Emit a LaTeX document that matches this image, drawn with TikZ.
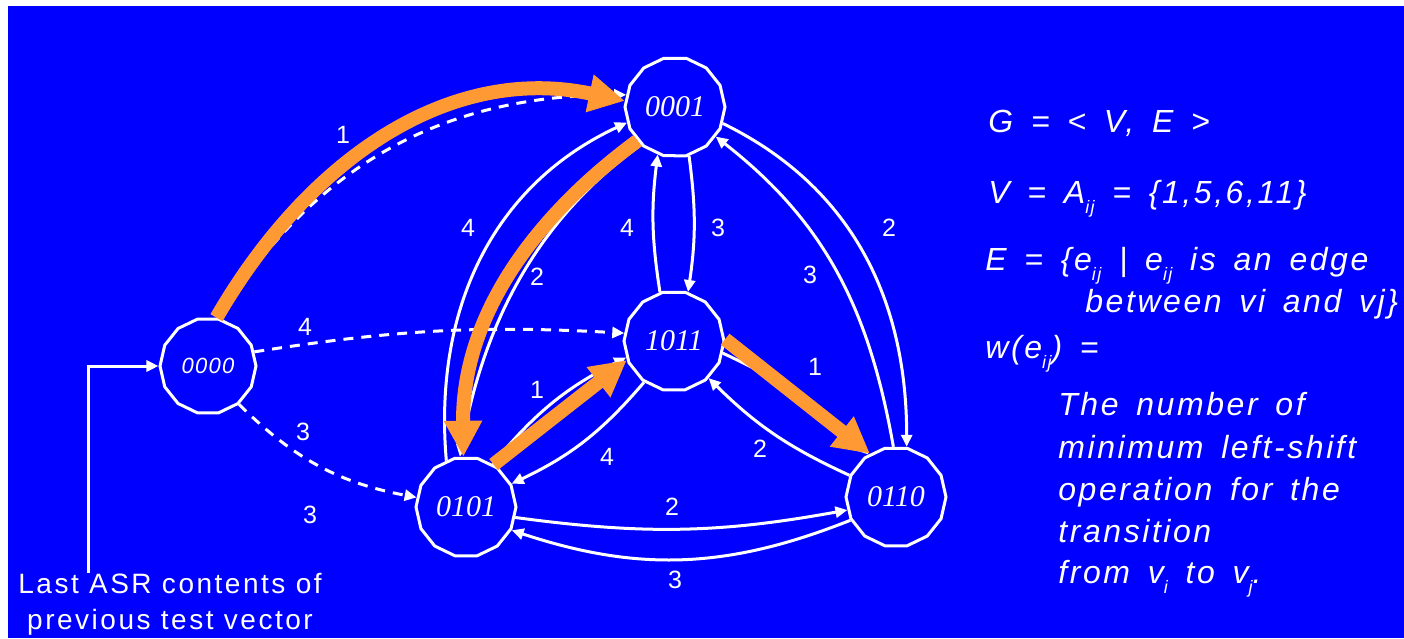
\documentclass[tikz,border=0pt]{standalone}
\usepackage{fontspec}
\setmainfont{Liberation Serif}
\setsansfont{Liberation Sans}
\newfontfamily\asrfont{Liberation Sans}[LetterSpace=9]
\newfontfamily\deffont{Liberation Sans}[LetterSpace=8,WordSpace=1.55]
\newfontfamily\initfont{Liberation Sans}[LetterSpace=6]
\usepackage{xcolor}
\definecolor{slideblue}{RGB}{0,0,255}
\definecolor{pathorange}{RGB}{255,153,51}
\usetikzlibrary{shapes.geometric,arrows.meta}
\newcommand{\idx}[1]{\raisebox{-0.6ex}{\fontsize{9}{9}\selectfont #1}}
\tikzset{
  st_node/.style={regular polygon,regular polygon sides=14,
    draw=white,line width=1.5pt,fill=slideblue,
    minimum size=50pt,inner sep=0pt,text=white,
    font=\fontsize{15}{15}\selectfont\itshape},
  st_init/.style={st_node,minimum size=48pt,
    font=\initfont\itshape\fontsize{11}{11}\selectfont},
  wl/.style={draw=white,line width=1.5pt,-{Triangle[length=6pt,width=5.5pt]}},
  wdash/.style={wl,dash pattern=on 5pt off 4pt},
  orng/.style={draw=pathorange,line width=7pt,
    -{Triangle[length=18pt,width=18pt]}},
  wlab/.style={text=white,inner sep=0pt,
    font=\fontsize{12.5}{12.5}\selectfont\sffamily},
  deftxt/.style={anchor=base west,text=white,inner sep=0pt,
    font=\deffont\itshape\fontsize{16}{16}\selectfont},
  asrtxt/.style={text=white,align=center,inner sep=0pt,
    font=\asrfont\fontsize{14}{18}\selectfont},
}

\begin{document}
\begin{tikzpicture}[x=0.5pt,y=-0.5pt]
  \useasboundingbox (0,0) rectangle (1404,638);
  \fill[white] (0,0) rectangle (1404,638);
  \fill[slideblue] (8,6) rectangle (1404,638);

  % states (binary ASR contents)
  \node (s0)  [st_init] at (208,366) {0000};
  \node (s1)  [st_node] at (675,107) {0001};
  \node (s11) [st_node] at (674,341) {1011};
  \node (s5)  [st_node] at (466,507) {0101};
  \node (s6)  [st_node] at (896,497) {0110};

  % initial state comes from previous vector
  \node (asrnote) [asrtxt] at (170,604)
    {Last ASR contents of\\previous test vector};
  \coordinate (asr) at (88,573);
  \draw[wl] (asr) |- (s0.west);

  % edges out of 0000
  \draw[wdash] (s0.17) to[bend left=6] (s11.171);
  \draw[wdash] (s0.-51) to[bend right=17] (s5.169);
  \draw[wdash] (s0.77) to[out=58,in=180] (s1.166);

  % edges between the four states
  \draw[wl] (s5.113) to[out=95,in=205] (s1.198);
  \draw[wl] (s1.228) .. controls (533,222) and (482,330) .. (s5.97);
  \draw[wl] (s11.106) to[bend left=8] (s1.250);
  \draw[wl] (s1.286) to[bend left=8] (s11.74);
  \draw[wl] (s1.341) to[out=-26,in=90] (s6.78);
  \draw[wl] (s6.93) to[out=100,in=-38] (s1.324);
  \draw[wl] (s5.58) to[bend left=12] (s11.199);
  \draw[wl] (s11.234) to[bend left=12] (s5.27);
  \draw[wl] (s11.-14) to[bend left=10] (s6.123);
  \draw[wl] (s6.155) to[bend left=10] (s11.313);
  \draw[wl] (s5.-12) to[bend right=9] (s6.195);
  \draw[wl] (s6.207) to[bend left=20] (s5.333);

  % minimum path
  \draw[orng] (s0.80) to[out=60,in=168] (s1.173);
  \draw[orng] (s1.222) .. controls (530,220) and (462,320) .. (s5.93);
  \draw[orng] (s5.57) -- (s11.202);
  \draw[orng] (s11.2) -- (s6.121);

  % weights
  \node (w01a) [wlab] at (343,135) {1};
  \node (w05a) [wlab] at (303,432) {3};
  \node (w05b) [wlab] at (310,515) {3};
  \node (w011) [wlab] at (305,327) {4};
  \node (w51)  [wlab] at (468,228) {4};
  \node (w15)  [wlab] at (537,277) {2};
  \node (w111) [wlab] at (627,228) {4};
  \node (w111b)[wlab] at (718,228) {3};
  \node (w16)  [wlab] at (889,228) {2};
  \node (w61)  [wlab] at (810,275) {3};
  \node (w116) [wlab] at (815,367) {1};
  \node (w511) [wlab] at (537,390) {1};
  \node (w115) [wlab] at (607,457) {4};
  \node (w611) [wlab] at (760,449) {2};
  \node (w56)  [wlab] at (672,507) {2};
  \node (w65)  [wlab] at (675,580) {3};

  % definition text
  \node (gdef)  [deftxt] at (988,132) {G = < V, E >};
  \node (vdef)  [deftxt] at (988,203) {V = A\idx{ij} = \{1,5,6,11\}};
  \node (edef)  [deftxt] at (985,270) {E = \{e\idx{ij} | e\idx{ij} is an edge};
  \node (edef2) [deftxt] at (1085,312) {between vi and vj\}};
  \node (wdef)  [deftxt] at (985,358) {w(e\idx{ij}) =};
  \node (wtx1)  [deftxt] at (1058,415) {The number of};
  \node (wtx2)  [deftxt] at (1058,458) {minimum left-shift};
  \node (wtx3)  [deftxt] at (1058,500) {operation for the};
  \node (wtx4)  [deftxt] at (1058,542) {transition};
  \node (wtx5)  [deftxt] at (1058,583) {from v\idx{i} to v\idx{j}.};
\end{tikzpicture}
\end{document}
